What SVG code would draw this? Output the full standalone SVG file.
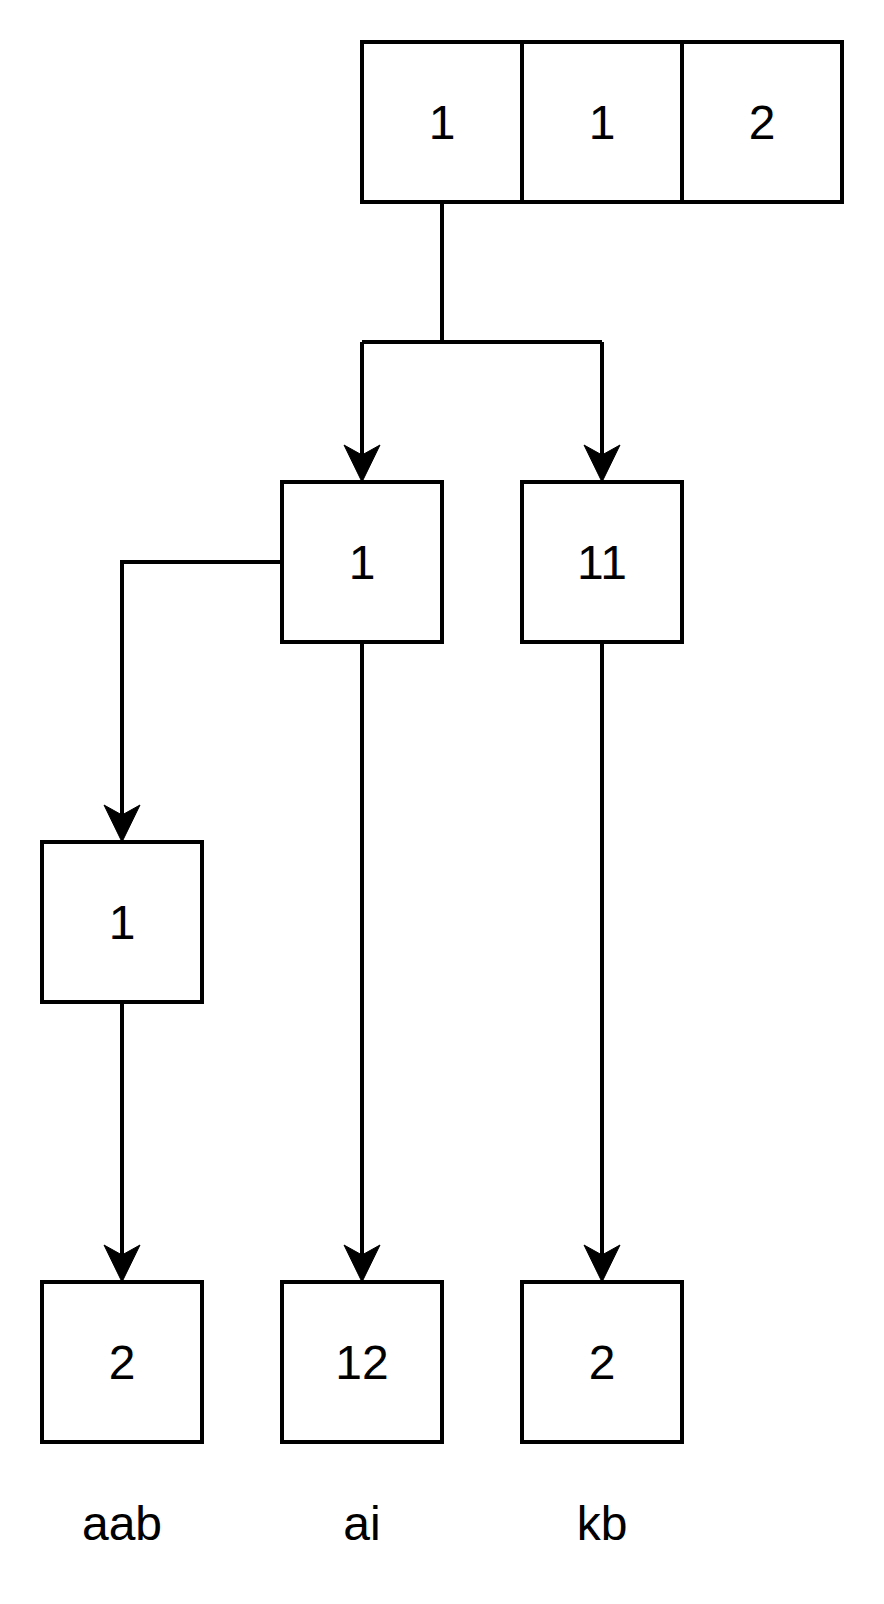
<svg xmlns="http://www.w3.org/2000/svg" xmlns:xlink="http://www.w3.org/1999/xlink" width="884" height="1604" viewBox="0 0 884 1604">
<style>
.box{fill:#fff;stroke:#000;stroke-width:4}
.edge{fill:none;stroke:#000;stroke-width:4}
.t{font-family:"Liberation Sans",Arial,sans-serif;font-size:48px;fill:#000;text-anchor:middle}
</style>
<defs>
<path id="ah" d="M0,0 L-18,-37 L0,-27 L18,-37 Z" fill="#000" stroke="#000" stroke-width="1" stroke-linejoin="miter"/>
</defs>
<rect width="884" height="1604" fill="#fff"/>
<g id="connectors">
<path class="edge" d="M442,202 V342 M362,342 H602 M362,342 V455 M602,342 V455"/>
<path class="edge" d="M282,562 H122 V815"/>
<path class="edge" d="M122,1002 V1255"/>
<path class="edge" d="M362,642 V1255"/>
<path class="edge" d="M602,642 V1255"/>
<use xlink:href="#ah" x="362" y="482"/>
<use xlink:href="#ah" x="602" y="482"/>
<use xlink:href="#ah" x="122" y="842"/>
<use xlink:href="#ah" x="122" y="1282"/>
<use xlink:href="#ah" x="362" y="1282"/>
<use xlink:href="#ah" x="602" y="1282"/>
</g>
<g id="root">
<rect class="box" x="362" y="42" width="160" height="160"/>
<rect class="box" x="522" y="42" width="160" height="160"/>
<rect class="box" x="682" y="42" width="160" height="160"/>
<text class="t" x="442" y="139">1</text>
<text class="t" x="602" y="139">1</text>
<text class="t" x="762" y="139">2</text>
</g>
<g id="n1">
<rect class="box" x="282" y="482" width="160" height="160"/>
<text class="t" x="362" y="579">1</text>
</g>
<g id="n11">
<rect class="box" x="522" y="482" width="160" height="160"/>
<text class="t" x="602" y="579">11</text>
</g>
<g id="n1b">
<rect class="box" x="42" y="842" width="160" height="160"/>
<text class="t" x="122" y="939">1</text>
</g>
<g id="leaf-aab">
<rect class="box" x="42" y="1282" width="160" height="160"/>
<text class="t" x="122" y="1379">2</text>
</g>
<g id="leaf-ai">
<rect class="box" x="282" y="1282" width="160" height="160"/>
<text class="t" x="362" y="1379">12</text>
</g>
<g id="leaf-kb">
<rect class="box" x="522" y="1282" width="160" height="160"/>
<text class="t" x="602" y="1379">2</text>
</g>
<g id="labels">
<text class="t" x="122" y="1540">aab</text>
<text class="t" x="362" y="1540">ai</text>
<text class="t" x="602" y="1540">kb</text>
</g>
</svg>
